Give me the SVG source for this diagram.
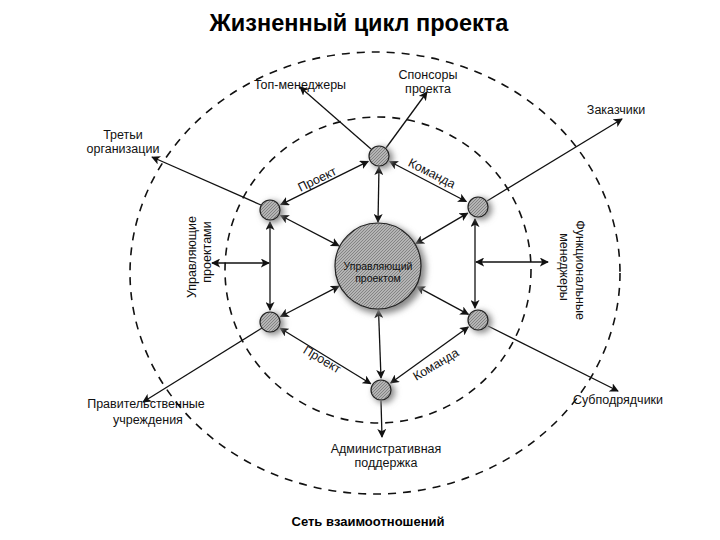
<svg xmlns="http://www.w3.org/2000/svg" width="720" height="540" viewBox="0 0 720 540">
<style>
.t{font-family:"Liberation Sans",Arial,sans-serif;font-size:12.5px;fill:#111;}
.s{font-family:"Liberation Sans",Arial,sans-serif;font-size:10.5px;fill:#111;}
.b{font-family:"Liberation Sans",Arial,sans-serif;font-weight:bold;fill:#000;}
.dash{fill:none;stroke:#111;stroke-width:1.6;stroke-dasharray:8 7;}
.l{stroke:#111;stroke-width:1.3;fill:none;}
.a{marker-end:url(#ah);}
.aa{marker-start:url(#ah);marker-end:url(#ah);}
.node{fill:url(#hatch);stroke:#222;stroke-width:1.2;}
.sh{fill:#888;filter:url(#blur);}
</style>
<defs>
<marker id="ah" viewBox="0 0 10 10" refX="9" refY="5" markerWidth="9" markerHeight="9" markerUnits="userSpaceOnUse" orient="auto-start-reverse">
<path d="M0,0 L10,5 L0,10 L2.5,5 Z" fill="#111"/>
</marker>
<pattern id="hatch" width="3" height="3" patternUnits="userSpaceOnUse">
<rect width="3" height="3" fill="#b4b4b4"/>
<path d="M0,3 L3,0" stroke="#777" stroke-width="0.8"/>
</pattern>
<filter id="blur" x="-50%" y="-50%" width="200%" height="200%"><feGaussianBlur stdDeviation="3"/></filter>
</defs>
<rect width="720" height="540" fill="#fff"/>
<text class="b" x="359" y="31" font-size="23.5" text-anchor="middle">Жизненный цикл проекта</text>
<g id="rings">
<ellipse class="dash" cx="375" cy="273" rx="245" ry="221"/>
<circle class="dash" cx="378" cy="270" r="153"/>
</g>
<g id="connectors">
<line class="l aa" x1="379" y1="167" x2="378" y2="222"/>
<line class="l aa" x1="280.6" y1="215.5" x2="339" y2="245.8"/>
<line class="l aa" x1="467.7" y1="213.1" x2="415.9" y2="243.6"/>
<line class="l aa" x1="280.6" y1="316.5" x2="339" y2="286.2"/>
<line class="l aa" x1="468.4" y1="314.4" x2="416.9" y2="286.6"/>
<line class="l aa" x1="381" y1="378" x2="378.5" y2="310"/>
<line class="l aa" x1="368.2" y1="161.3" x2="280.8" y2="204.7"/>
<line class="l aa" x1="389.7" y1="161.5" x2="466.3" y2="201.5"/>
<line class="l aa" x1="270" y1="222" x2="270" y2="310"/>
<line class="l aa" x1="475" y1="219" x2="475" y2="308"/>
<line class="l aa" x1="280.2" y1="328.3" x2="370.8" y2="383.7"/>
<line class="l aa" x1="468.3" y1="327" x2="390.7" y2="383"/>
<line class="l a" x1="371" y1="149" x2="300" y2="87"/>
<line class="l a" x1="386" y1="148" x2="427" y2="92"/>
<line class="l a" x1="261" y1="205" x2="152" y2="157"/>
<line class="l a" x1="487" y1="201" x2="622" y2="119"/>
<line class="l aa" x1="212" y1="263" x2="269" y2="263"/>
<line class="l aa" x1="476" y1="262" x2="548" y2="262"/>
<line class="l a" x1="262" y1="328" x2="143" y2="402"/>
<line class="l a" x1="488" y1="326" x2="618" y2="391"/>
<line class="l a" x1="381" y1="401" x2="382" y2="437"/>
</g>
<g id="center">
<circle class="sh" cx="381" cy="269" r="45"/>
<circle class="node" cx="378" cy="266" r="43"/>
<text class="s" x="378" y="270" text-anchor="middle">Управляющий</text>
<text class="s" x="378" y="282" text-anchor="middle">проектом</text>
</g>
<g id="n-top"><circle class="sh" cx="382" cy="158" r="11"/><circle class="node" cx="379" cy="156" r="10"/></g>
<g id="n-ul"><circle class="sh" cx="273" cy="212" r="11"/><circle class="node" cx="270" cy="210" r="10"/></g>
<g id="n-ur"><circle class="sh" cx="481" cy="209" r="11"/><circle class="node" cx="478" cy="207" r="10"/></g>
<g id="n-ll"><circle class="sh" cx="273" cy="324" r="11"/><circle class="node" cx="270" cy="322" r="10"/></g>
<g id="n-lr"><circle class="sh" cx="481" cy="322" r="11"/><circle class="node" cx="478" cy="320" r="10"/></g>
<g id="n-b"><circle class="sh" cx="384" cy="392" r="11"/><circle class="node" cx="381" cy="390" r="10"/></g>
<g id="edge-labels">
<text class="t" transform="translate(319,183) rotate(-26)" text-anchor="middle">Проект</text>
<text class="t" transform="translate(430,177) rotate(27)" text-anchor="middle">Команда</text>
<text class="t" transform="translate(320,363) rotate(31)" text-anchor="middle">Проект</text>
<text class="t" transform="translate(438,368) rotate(-31)" text-anchor="middle">Команда</text>
</g>
<g id="labels">
<text class="t" x="300" y="89" text-anchor="middle">Топ-менеджеры</text>
<text class="t" x="428" y="79" text-anchor="middle">Спонсоры</text>
<text class="t" x="428" y="93" text-anchor="middle">проекта</text>
<text class="t" x="123" y="139" text-anchor="middle">Третьи</text>
<text class="t" x="123" y="153" text-anchor="middle">организации</text>
<text class="t" x="616" y="114" text-anchor="middle">Заказчики</text>
<text class="t" transform="translate(196,257) rotate(-90)" text-anchor="middle">Управляющие</text>
<text class="t" transform="translate(211,252) rotate(-90)" text-anchor="middle">проектами</text>
<text class="t" transform="translate(576,270) rotate(90)" text-anchor="middle">Функциональные</text>
<text class="t" transform="translate(560,267) rotate(90)" text-anchor="middle">менеджеры</text>
<text class="t" x="146" y="408" text-anchor="middle">Правительственные</text>
<text class="t" x="148" y="424" text-anchor="middle">учреждения</text>
<text class="t" x="618" y="404" text-anchor="middle">Субподрядчики</text>
<text class="t" x="386" y="453" text-anchor="middle">Административная</text>
<text class="t" x="386" y="467" text-anchor="middle">поддержка</text>
<text class="b" x="368" y="526" font-size="13" text-anchor="middle">Сеть взаимоотношений</text>
</g>
</svg>
